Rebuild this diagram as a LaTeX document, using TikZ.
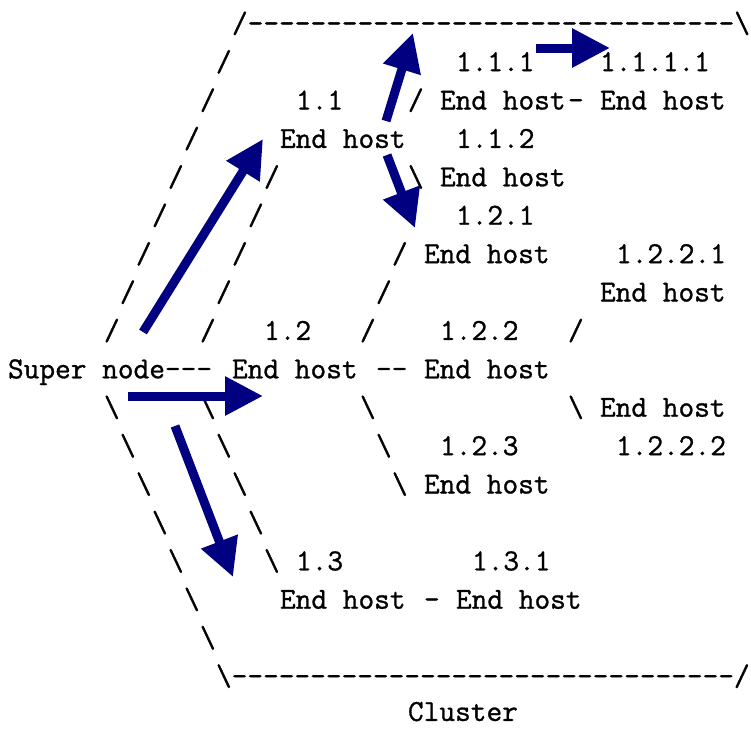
\documentclass[tikz,border=0pt]{standalone}
\usepackage{fontspec}
\usetikzlibrary{arrows.meta}
\newfontfamily\gridfont{Latin Modern Mono}[FakeBold=1]
\definecolor{flowblue}{RGB}{0,0,128}
% place text on a monospaced character grid: column #2, row #3
\newcommand{\gridtext}[4]{\node[txt] (#1) at ({8+16*(#2)},{32.7+38.4*(#3)}) {#4};}
\newcommand{\bs}{\textbackslash}
\newcommand{\dashrun}[1]{\foreach \k in {1,...,#1}{-}}
\tikzset{
  txt/.style={anchor=base west, inner sep=0pt, outer sep=0pt,
    font=\gridfont\fontsize{30.48}{38}\selectfont, text=black},
  flow/.style={draw=flowblue, line width=9pt,
    -{Triangle[length=38pt,width=37pt]}}
}
\begin{document}
\begin{tikzpicture}[x=1pt,y=-1pt]
\useasboundingbox (0,0) rectangle (751,728);
% row 0: top of the cluster
\gridtext{top}{14}{0}{/\dashrun{31}\bs}
% row 1
\gridtext{o1}{13}{1}{/}
\gridtext{l111}{28}{1}{1.1.1}
\gridtext{l1111}{37}{1}{1.1.1.1}
% row 2
\gridtext{o2}{12}{2}{/}
\gridtext{l11}{18}{2}{1.1}
\gridtext{e111}{25}{2}{/}
\gridtext{h111}{27}{2}{End host}
\gridtext{e1111}{35}{2}{-}
\gridtext{h1111}{37}{2}{End host}
% row 3
\gridtext{o3}{11}{3}{/}
\gridtext{h11}{17}{3}{End host}
\gridtext{l112}{28}{3}{1.1.2}
% row 4
\gridtext{o4}{10}{4}{/}
\gridtext{i4}{16}{4}{/}
\gridtext{e112}{25}{4}{\bs}
\gridtext{h112}{27}{4}{End host}
% row 5
\gridtext{o5}{9}{5}{/}
\gridtext{i5}{15}{5}{/}
\gridtext{l121}{28}{5}{1.2.1}
% row 6
\gridtext{o6}{8}{6}{/}
\gridtext{i6}{14}{6}{/}
\gridtext{e121a}{24}{6}{/}
\gridtext{h121}{26}{6}{End host}
\gridtext{l1221}{38}{6}{1.2.2.1}
% row 7
\gridtext{o7}{7}{7}{/}
\gridtext{i7}{13}{7}{/}
\gridtext{e121b}{23}{7}{/}
\gridtext{h1221}{37}{7}{End host}
% row 8
\gridtext{o8}{6}{8}{/}
\gridtext{i8}{12}{8}{/}
\gridtext{l12}{16}{8}{1.2}
\gridtext{e121c}{22}{8}{/}
\gridtext{l122}{27}{8}{1.2.2}
\gridtext{e1221}{35}{8}{/}
% row 9
\gridtext{super}{0}{9}{Super node---}
\gridtext{h12}{14}{9}{End host}
\gridtext{e122}{23}{9}{--}
\gridtext{h122}{26}{9}{End host}
% row 10
\gridtext{o10}{6}{10}{\bs}
\gridtext{i10}{12}{10}{\bs}
\gridtext{e123a}{22}{10}{\bs}
\gridtext{e1222}{35}{10}{\bs}
\gridtext{h1222}{37}{10}{End host}
% row 11
\gridtext{o11}{7}{11}{\bs}
\gridtext{i11}{13}{11}{\bs}
\gridtext{e123b}{23}{11}{\bs}
\gridtext{l123}{27}{11}{1.2.3}
\gridtext{l1222}{38}{11}{1.2.2.2}
% row 12
\gridtext{o12}{8}{12}{\bs}
\gridtext{i12}{14}{12}{\bs}
\gridtext{e123c}{24}{12}{\bs}
\gridtext{h123}{26}{12}{End host}
% row 13
\gridtext{o13}{9}{13}{\bs}
\gridtext{i13}{15}{13}{\bs}
% row 14
\gridtext{o14}{10}{14}{\bs}
\gridtext{i14}{16}{14}{\bs}
\gridtext{l13}{18}{14}{1.3}
\gridtext{l131}{29}{14}{1.3.1}
% row 15
\gridtext{o15}{11}{15}{\bs}
\gridtext{h13}{17}{15}{End host}
\gridtext{e131}{26}{15}{-}
\gridtext{h131}{28}{15}{End host}
% row 16
\gridtext{o16}{12}{16}{\bs}
% row 17: bottom of the cluster
\gridtext{bottom}{13}{17}{\bs\dashrun{32}/}
% row 18: label under the cluster, kept just inside the lower edge
\node[txt] (cluster) at ({8+16*25},{32.7+38.4*18-3}) {Cluster};

% blue flow arrows
\coordinate (a1s) at (143,332);
\coordinate (a1e) at (263,139);
\coordinate (a2s) at (128,396);
\coordinate (a2e) at (263,396);
\coordinate (a3s) at (175,426);
\coordinate (a3e) at (233,577);
\coordinate (a4s) at (386,121);
\coordinate (a4e) at (413,33);
\coordinate (a5s) at (387,155);
\coordinate (a5e) at (415,228);
\coordinate (a6s) at (536,48);
\coordinate (a6e) at (610,48);
\draw[flow] (a1s) -- (a1e);
\draw[flow] (a2s) -- (a2e);
\draw[flow] (a3s) -- (a3e);
\draw[flow] (a4s) -- (a4e);
\draw[flow] (a5s) -- (a5e);
\draw[flow] (a6s) -- (a6e);
\end{tikzpicture}
\end{document}
